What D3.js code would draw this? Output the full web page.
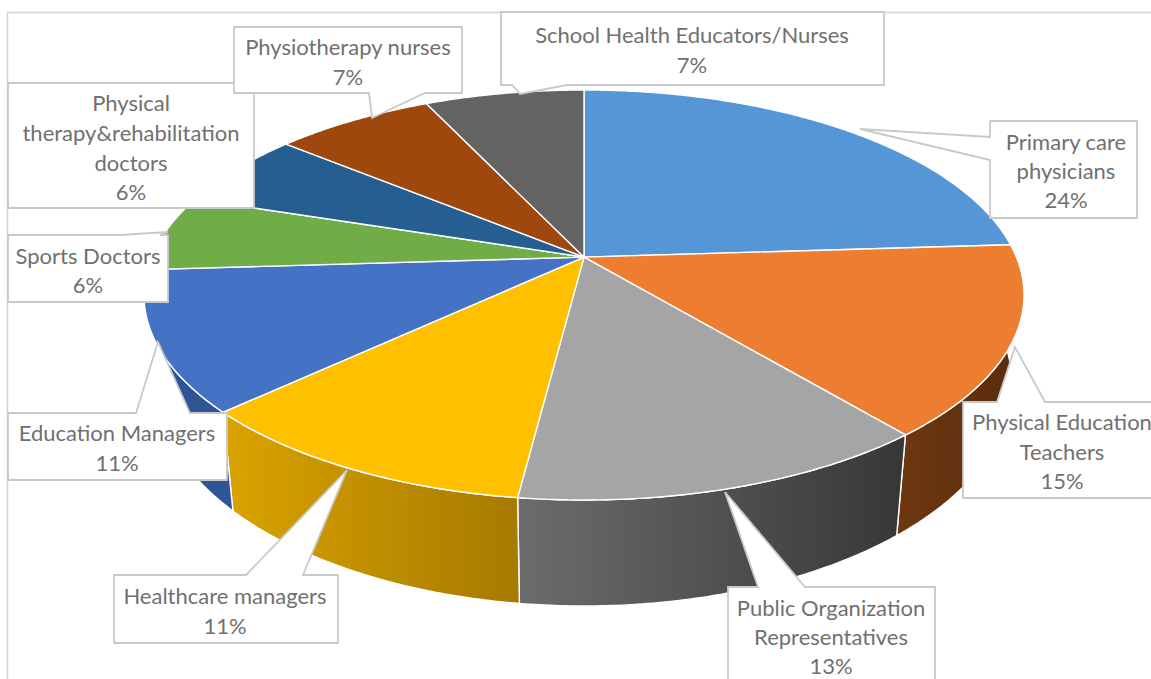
<!DOCTYPE html>
<html>
<head>
<meta charset="utf-8">
<script src="https://cdn.jsdelivr.net/npm/d3@7/dist/d3.min.js"></script>
<style>
  html, body { margin: 0; padding: 0; background: #fff; }
  svg { display: block; }
  text { font-family: Lato, "Open Sans", sans-serif; }
</style>
</head>
<body>
<svg id="chart" width="1151" height="679"></svg>
<script>
// Shares of respondents by professional group
const categories = [
  "Primary care physicians", "Physical Education Teachers", "Public Organization Representatives",
  "Healthcare managers", "Education Managers", "Sports Doctors",
  "Physical therapy&rehabilitation doctors", "Physiotherapy nurses", "School Health Educators/Nurses"
];
const shares = [24, 15, 13, 11, 11, 6, 6, 7, 7];

// How each category name wraps inside its callout
const nameLines = [
  ["Primary care", "physicians"],
  ["Physical Education", "Teachers"],
  ["Public Organization", "Representatives"],
  ["Healthcare managers"],
  ["Education Managers"],
  ["Sports Doctors"],
  ["Physical", "therapy&rehabilitation", "doctors"],
  ["Physiotherapy nurses"],
  ["School Health Educators/Nurses"]
];

const topColors = ["#5596d6", "#ed7d31", "#a5a5a5", "#ffc000", "#4472c4", "#70ad47", "#255e91", "#9e480e", "#636363"];

// Side wall shading for the slices that face the viewer (left and right ends of each gradient)
const wallShades = {
  1: ["#6e3711", "#5a2d0c"],
  2: ["#6c6c6c", "#383838"],
  3: ["#d8a200", "#a67a00"],
  4: ["#2f5597", "#2f5597"]
};

// Callout boxes: box edges, pointer base on one box side and pointer tip, text centre and line positions
const callouts = [
  { box: [990, 121, 1137, 218], side: "left", base: [137, 160], tip: [860, 129], cx: 1066, ys: [141, 170, 199] },
  { box: [963, 402, 1160, 498], side: "top", base: [997, 1045], tip: [1015, 347], cx: 1062, ys: [421, 451, 480] },
  { box: [728, 587, 935, 700], side: "top", base: [758, 805], tip: [725, 492], cx: 831, ys: [607, 636, 665] },
  { box: [114, 575, 338, 643], side: "top", base: [246, 303], tip: [347, 470], cx: 225, ys: [595, 625] },
  { box: [8, 413, 227, 480], side: "top", base: [136, 190], tip: [158, 342], cx: 117, ys: [432, 462] },
  { box: [8, 235, 168, 302], side: "top", base: [120, 160], tip: [168, 232], cx: 88, ys: [255, 284] },
  { box: [8, 83, 254, 208], side: "none", cx: 131, ys: [102, 132, 162, 191] },
  { box: [234, 27, 462, 93], side: "bottom", base: [369, 425], tip: [372, 118], cx: 348, ys: [46, 76] },
  { box: [501, 12, 884, 85], side: "bottom", base: [512, 567], tip: [520, 94], cx: 692, ys: [34, 64] }
];

const svg = d3.select("#chart");
const defs = svg.append("defs");

// Top face and bottom rim of the tilted disc, as scales over the unit circle
const topX = d3.scaleLinear().domain([-1, 1]).range([144, 1024]);
const topY = d3.scaleLinear().domain([-1, 1]).range([500, 90]);
const baseX = d3.scaleLinear().domain([-1, 1]).range([156, 1012]);
const baseY = d3.scaleLinear().domain([-1, 1]).range([606, 162]);

// Perspective tilt: moves the disc's centre toward the far rim while keeping the rim on the circle
const tilt = 0.185;
const project = a => {
  const u = Math.sin(a), v = Math.cos(a), w = 1 + tilt * v;
  return [u * Math.sqrt(1 - tilt * tilt) / w, (v + tilt) / w];
};

const pie = d3.pie().sort(null).value(d => d);
const arcs = pie(shares);
const line = d3.line();
const rimAngles = (a0, a1) => {
  const n = Math.max(2, Math.ceil((a1 - a0) / 0.01));
  return d3.range(n + 1).map(i => a0 + (a1 - a0) * i / n);
};

// Side walls go first so the top face sits over them
const walls = arcs.map((d, i) => ({ d, i })).filter(e => wallShades[e.i]);
walls.forEach(({ i }) => {
  const g = defs.append("linearGradient")
    .attr("id", "wall" + i).attr("gradientUnits", "userSpaceOnUse");
  const ext = d3.extent(rimAngles(arcs[i].startAngle, arcs[i].endAngle), a => baseX(project(a)[0]));
  g.attr("x1", ext[0]).attr("x2", ext[1]).attr("y1", 0).attr("y2", 0);
  g.append("stop").attr("offset", 0).attr("stop-color", wallShades[i][0]);
  g.append("stop").attr("offset", 1).attr("stop-color", wallShades[i][1]);
});

svg.append("g").selectAll("path").data(walls).join("path")
  .attr("d", ({ d }) => {
    const angles = rimAngles(d.startAngle, d.endAngle);
    const upper = angles.map(a => { const p = project(a); return [topX(p[0]), topY(p[1])]; });
    const lower = angles.slice().reverse().map(a => { const p = project(a); return [baseX(p[0]), baseY(p[1])]; });
    return line(upper.concat(lower)) + "Z";
  })
  .attr("fill", ({ i }) => `url(#wall${i})`)
  .attr("stroke", "#fff").attr("stroke-width", 1.4).attr("stroke-linejoin", "round");

// Top face of every slice
const centre = [topX(0), topY(tilt)];
svg.append("g").selectAll("path").data(arcs).join("path")
  .attr("d", d => {
    const rim = rimAngles(d.startAngle, d.endAngle).map(a => {
      const p = project(a); return [topX(p[0]), topY(p[1])];
    });
    return line([centre].concat(rim)) + "Z";
  })
  .attr("fill", (d, i) => topColors[i])
  .attr("stroke", "#fff").attr("stroke-width", 1.4).attr("stroke-linejoin", "round");

// Chart frame
svg.append("path")
  .attr("d", "M1151,12.5H7.5V679")
  .attr("fill", "none").attr("stroke", "#d4d4d4").attr("stroke-width", 1.5);

// Callout outline: the box with its pointer folded into one side
const calloutPath = c => {
  const [x0, y0, x1, y1] = c.box;
  const pts = [[x0, y0]];
  if (c.side === "top") pts.push([c.base[0], y0], c.tip, [c.base[1], y0]);
  pts.push([x1, y0], [x1, y1]);
  if (c.side === "bottom") pts.push([c.base[1], y1], c.tip, [c.base[0], y1]);
  pts.push([x0, y1]);
  if (c.side === "left") pts.push([x0, c.base[1]], c.tip, [x0, c.base[0]]);
  return line(pts) + "Z";
};

const labels = svg.append("g").selectAll("g").data(callouts).join("g");
labels.append("path")
  .attr("d", calloutPath)
  .attr("fill", "#fff").attr("stroke", "#c9c9c9").attr("stroke-width", 1.8)
  .attr("stroke-linejoin", "miter");

labels.each(function (c, i) {
  const rows = nameLines[i].concat([shares[i] + "%"]);
  d3.select(this).selectAll("text").data(rows).join("text")
    .attr("x", c.cx)
    .attr("y", (r, j) => c.ys[j])
    .attr("text-anchor", "middle")
    .attr("dominant-baseline", "central")
    .attr("font-size", 22)
    .attr("fill", "#707070")
    .text(r => r);
});
</script>
</body>
</html>
